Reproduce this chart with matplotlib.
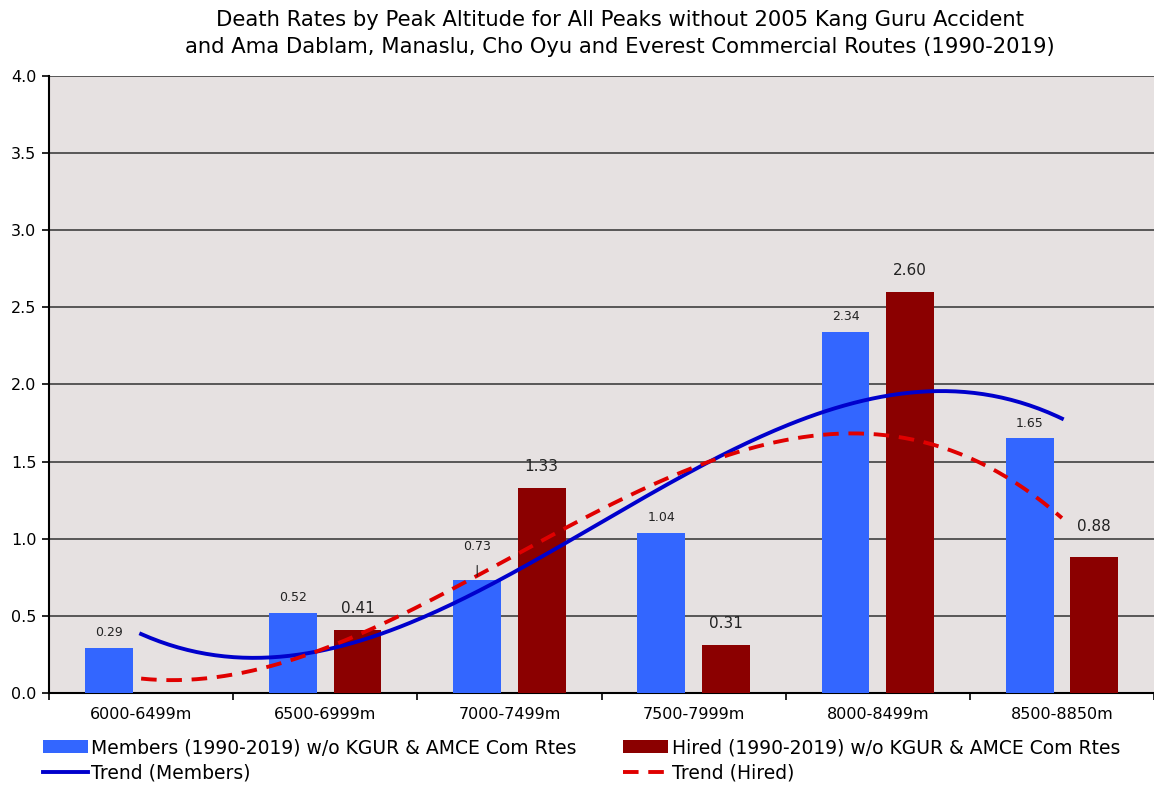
import numpy as np
import matplotlib.pyplot as plt

categories = ["6000-6499m", "6500-6999m", "7000-7499m", "7500-7999m", "8000-8499m", "8500-8850m"]
members = [0.29, 0.52, 0.73, 1.04, 2.34, 1.65]
hired = [0.0, 0.41, 1.33, 0.31, 2.60, 0.88]   # no hired deaths on 6000-6499m

title = ("Death Rates by Peak Altitude for All Peaks without 2005 Kang Guru Accident\n"
         "and Ama Dablam, Manaslu, Cho Oyu and Everest Commercial Routes (1990-2019)")

plt.rcParams['font.family'] = ['DejaVu Sans']

fig = plt.figure(figsize=(11.54, 7.85), dpi=100)
ax = fig.add_axes([0.0425, 0.1172, 0.9575, 0.786])
ax.set_facecolor('#E6E1E1')

x = np.arange(len(categories))
w = 0.26
off = 0.175
bm = ax.bar(x - off, members, w, color='#3366FF', zorder=3)
bh = ax.bar(x + off, hired, w, color='#8B0000', zorder=3)

# cubic trend lines like the spreadsheet trendline
xs = np.linspace(0, len(categories) - 1, 200)
pm = np.polyfit(x, members, 3)
ph = np.polyfit(x, hired, 3)
lm, = ax.plot(xs, np.polyval(pm, xs), color='#0000CC', lw=2.8, zorder=4)
lh, = ax.plot(xs, np.polyval(ph, xs), color='#E00000', lw=2.8, ls=(0, (4, 2.5)), zorder=4)

# value labels
for i, v in enumerate(members):
    if i == 2:
        ax.annotate(f"{v:.2f}", (i - off, v), xytext=(i - off, v + 0.22),
                    ha='center', va='center', fontsize=9, color='#222222',
                    arrowprops=dict(arrowstyle='-', color='#222222', lw=0.8,
                                    shrinkA=7, shrinkB=3), zorder=5)
    else:
        ax.text(i - off, v + 0.1, f"{v:.2f}", ha='center', va='center',
                fontsize=9, color='#222222', zorder=5)
for i, v in enumerate(hired):
    if v == 0:
        continue
    dy = 0.2 if i == 5 else 0.14
    ax.text(i + off, v + dy, f"{v:.2f}", ha='center', va='center',
            fontsize=11, color='#222222', zorder=5)

ax.set_xlim(-0.5, len(categories) - 0.5)
ax.set_ylim(0, 4.0)
yt = np.arange(0, 4.01, 0.5)
ax.set_yticks(yt)
ax.set_yticklabels([f"{t:.1f}" for t in yt], fontsize=11.5)
ax.yaxis.grid(True, color='#404040', lw=1.2, zorder=1)
ax.set_axisbelow(True)

ax.set_xticks(x)
ax.set_xticklabels(categories, fontsize=11.5)
ax.set_xticks(np.arange(-0.5, len(categories), 1), minor=True)
ax.tick_params(axis='x', which='major', length=0, pad=10)
ax.tick_params(axis='x', which='minor', length=5, width=1.2, direction='out')
ax.tick_params(axis='y', length=5, width=1.2, direction='out', pad=4)

for s in ['top', 'right']:
    ax.spines[s].set_visible(False)
ax.spines['left'].set_linewidth(1.5)
ax.spines['bottom'].set_linewidth(1.5)

fig.suptitle(title, fontsize=15.2, x=0.537, y=0.987, linespacing=1.4)

ax.legend([bm, lm, bh, lh],
          ['Members (1990-2019) w/o KGUR & AMCE Com Rtes', 'Trend (Members)',
           'Hired (1990-2019) w/o KGUR & AMCE Com Rtes', 'Trend (Hired)'],
          ncol=2, loc='upper left', bbox_to_anchor=(-0.0125, -0.061),
          frameon=False, fontsize=13.5, handlelength=2.4, handletextpad=0.2,
          columnspacing=2.45, labelspacing=0.35, borderaxespad=0)

fig.savefig('out.png', dpi=100)
